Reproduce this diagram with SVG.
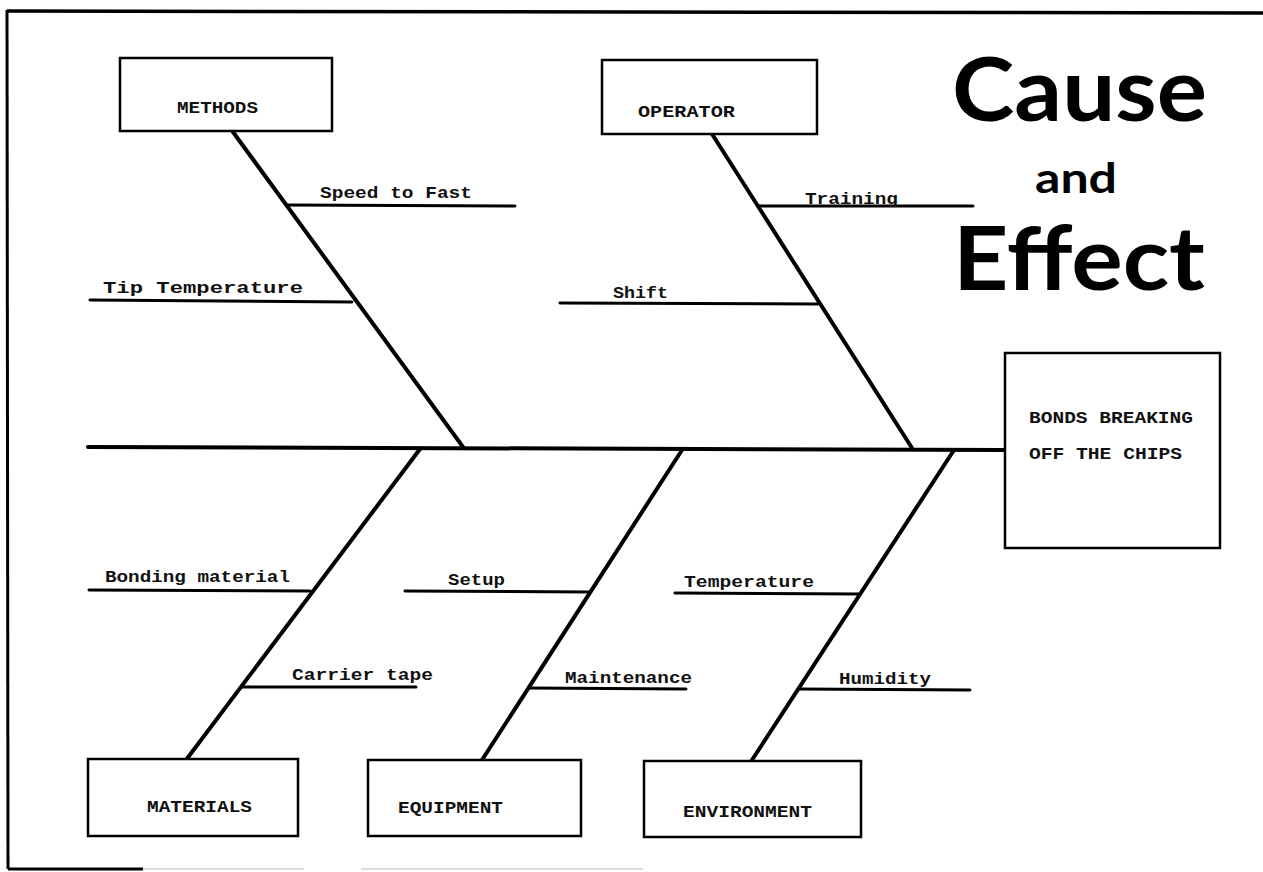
<svg xmlns="http://www.w3.org/2000/svg" width="1263" height="872" viewBox="0 0 1263 872">
<style>
.box{fill:#fff;stroke:#000;stroke-width:2.5}
.bone{stroke:#000;stroke-width:4;stroke-linecap:round;fill:none}
.rib{stroke:#000;stroke-width:3;stroke-linecap:round;fill:none}
.lbl{font-family:"Liberation Mono","DejaVu Sans Mono",monospace;font-size:17px;font-weight:bold;fill:#111}
.blbl{font-family:"Liberation Mono","DejaVu Sans Mono",monospace;font-size:17px;font-weight:bold;fill:#111}
.title{font-family:Lato,"Open Sans",sans-serif;font-weight:bold;fill:#000}
</style>
<rect width="1263" height="872" fill="#fff"/>
<g id="frame">
<path d="M7,11 L1263,13" stroke="#000" stroke-width="3.5" fill="none"/>
<path d="M7,10 L8,869" stroke="#000" stroke-width="3" fill="none"/>
<path d="M8,869 L143,869" stroke="#000" stroke-width="3" fill="none"/>
<path d="M143,869 L304,869 M361,869 L643,869" stroke="#ddd" stroke-width="2" fill="none"/>
</g>
<g id="title">
<text class="title" x="952" y="121" font-size="88" textLength="255" lengthAdjust="spacingAndGlyphs">Cause</text>
<text class="title" x="1035" y="193" font-size="42" textLength="82" lengthAdjust="spacingAndGlyphs">and</text>
<text class="title" x="953" y="290" font-size="88" textLength="252" lengthAdjust="spacingAndGlyphs">Effect</text>
</g>
<g id="connectors">
<path class="bone" d="M88,447 L1005,450"/>
<path class="bone" d="M233,132 L463,447"/>
<path class="bone" d="M712,134 L912,448"/>
<path class="bone" d="M420,449 L186,760"/>
<path class="bone" d="M682,450 L482,760"/>
<path class="bone" d="M954,450 L752,760"/>
<path class="rib" d="M286,205 L515,206"/>
<path class="rib" d="M90,300 L352,302"/>
<path class="rib" d="M758,206 L973,206"/>
<path class="rib" d="M560,303 L818,304"/>
<path class="rib" d="M89,590 L310,591"/>
<path class="rib" d="M241,687 L416,687"/>
<path class="rib" d="M405,591 L590,592"/>
<path class="rib" d="M529,688 L686,689"/>
<path class="rib" d="M675,593 L860,594"/>
<path class="rib" d="M799,689 L970,690"/>
</g>
<g id="cause-labels">
<text class="lbl" x="320" y="198" textLength="152" lengthAdjust="spacingAndGlyphs">Speed to Fast</text>
<text class="lbl" x="103" y="293" textLength="200" lengthAdjust="spacingAndGlyphs">Tip Temperature</text>
<text class="lbl" x="805" y="204" textLength="93" lengthAdjust="spacingAndGlyphs">Training</text>
<text class="lbl" x="613" y="298" textLength="55" lengthAdjust="spacingAndGlyphs">Shift</text>
<text class="lbl" x="105" y="582" textLength="185" lengthAdjust="spacingAndGlyphs">Bonding material</text>
<text class="lbl" x="292" y="680" textLength="141" lengthAdjust="spacingAndGlyphs">Carrier tape</text>
<text class="lbl" x="448" y="585" textLength="57" lengthAdjust="spacingAndGlyphs">Setup</text>
<text class="lbl" x="565" y="683" textLength="127" lengthAdjust="spacingAndGlyphs">Maintenance</text>
<text class="lbl" x="684" y="587" textLength="130" lengthAdjust="spacingAndGlyphs">Temperature</text>
<text class="lbl" x="839" y="684" textLength="92" lengthAdjust="spacingAndGlyphs">Humidity</text>
</g>
<g id="methods">
<rect class="box" x="120" y="58" width="212" height="73"/>
<text class="blbl" x="177" y="113" textLength="81" lengthAdjust="spacingAndGlyphs">METHODS</text>
</g>
<g id="operator">
<rect class="box" x="602" y="60" width="215" height="74"/>
<text class="blbl" x="638" y="117" textLength="97" lengthAdjust="spacingAndGlyphs">OPERATOR</text>
</g>
<g id="effect">
<rect class="box" x="1005" y="353" width="215" height="195" stroke-width="3.5"/>
<text class="blbl" x="1029" y="423" textLength="164" lengthAdjust="spacingAndGlyphs">BONDS BREAKING</text>
<text class="blbl" x="1029" y="459" textLength="153" lengthAdjust="spacingAndGlyphs">OFF THE CHIPS</text>
</g>
<g id="materials">
<rect class="box" x="88" y="759" width="210" height="77"/>
<text class="blbl" x="147" y="812" textLength="105" lengthAdjust="spacingAndGlyphs">MATERIALS</text>
</g>
<g id="equipment">
<rect class="box" x="368" y="760" width="213" height="76"/>
<text class="blbl" x="398" y="813" textLength="105" lengthAdjust="spacingAndGlyphs">EQUIPMENT</text>
</g>
<g id="environment">
<rect class="box" x="644" y="761" width="217" height="76"/>
<text class="blbl" x="683" y="817" textLength="129" lengthAdjust="spacingAndGlyphs">ENVIRONMENT</text>
</g>
</svg>
